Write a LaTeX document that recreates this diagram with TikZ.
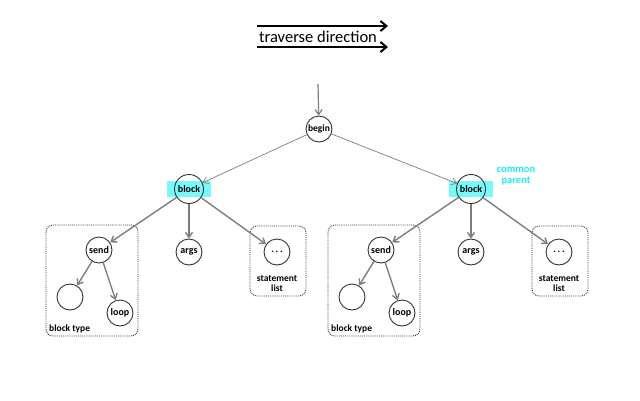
\documentclass[tikz,border=0pt]{standalone}
\usepackage{fontspec}
\setmainfont{Carlito}
\usetikzlibrary{arrows.meta}
\definecolor{edgegray}{RGB}{125,125,125}
\definecolor{ringgray}{RGB}{50,50,50}
\definecolor{markcyan}{RGB}{120,250,250}
\definecolor{notecyan}{RGB}{30,235,240}
\tikzstyle{astnode}=[circle,draw=ringgray,line width=0.9pt,minimum size=26pt,inner sep=0pt,font=\fontsize{10}{11}\selectfont\bfseries]
\tikzstyle{treeedge}=[-{Straight Barb[length=5pt,width=7pt]},edgegray,line width=1.4pt]
\tikzstyle{thinedge}=[-{Straight Barb[length=5pt,width=7pt]},edgegray,line width=0.7pt]
\tikzstyle{groupbox}=[draw=ringgray,densely dotted,line width=0.9pt,rounded corners=7pt]
\tikzstyle{grouplabel}=[font=\fontsize{9.5}{10}\selectfont\bfseries,inner sep=0pt,align=center]
\tikzstyle{direction}=[-{Straight Barb[length=6pt,width=10pt]},black,line width=2pt]
% one block subtree, #1 = name prefix, #2 = x of block
\newcommand{\drawblocktree}[2]{
  \fill[markcyan] (#2-22,181) rectangle (#2+22,197);
  \node[astnode,minimum size=29pt] (#1block) at (#2,189) {block};
  \node[astnode] (#1send) at (#2-90,250) {send};
  \node[astnode] (#1args) at (#2,252) {args};
  \node[astnode] (#1stmt) at (#2+88,252) {.\,.\,.};
  \node[astnode] (#1empty) at (#2-119,297) {};
  \node[astnode] (#1loop) at (#2-69,313) {loop};
  \draw[groupbox] (#2-143,225) rectangle (#2-51,336);
  \node[grouplabel,anchor=west] at (#2-140,329) {block type};
  \draw[groupbox] (#2+61,226) rectangle (#2+117,296);
  \node[grouplabel] at (#2+88,284) {statement\\list};
  \draw[treeedge] (#1block) -- (#1send);
  \draw[treeedge] (#1block) -- (#1args);
  \draw[treeedge] (#1block) -- (#1stmt);
  \draw[treeedge] (#1send) -- (#1empty);
  \draw[treeedge] (#1send) -- (#1loop);
}

\begin{document}
\begin{tikzpicture}[x=1pt,y=-1pt]
  \useasboundingbox (0,0) rectangle (640,400);
  % traverse direction
  \coordinate (dirAs) at (257,26);
  \coordinate (dirAe) at (388,26);
  \coordinate (dirBs) at (257,47);
  \coordinate (dirBe) at (388,47);
  \draw[direction] (dirAs) -- (dirAe);
  \draw[direction] (dirBs) -- (dirBe);
  \node[font=\fontsize{16.5}{18}\selectfont] (dirtext) at (318,37) {traverse direction};
  % root
  \coordinate (entry) at (318,84);
  \node[astnode,minimum size=26pt,font=\fontsize{9.5}{10}\selectfont\bfseries] (begin) at (319,129) {begin};
  \draw[thinedge,line width=1.2pt] (entry) -- (begin);
  \drawblocktree{l}{189}
  \drawblocktree{r}{471}
  \draw[thinedge] (begin) -- (lblock);
  \draw[thinedge] (begin) -- (rblock);
  \node[font=\fontsize{10.5}{11}\selectfont\bfseries,text=notecyan,align=center,inner sep=0pt] (note) at (516,176) {common\\parent};
\end{tikzpicture}
\end{document}
